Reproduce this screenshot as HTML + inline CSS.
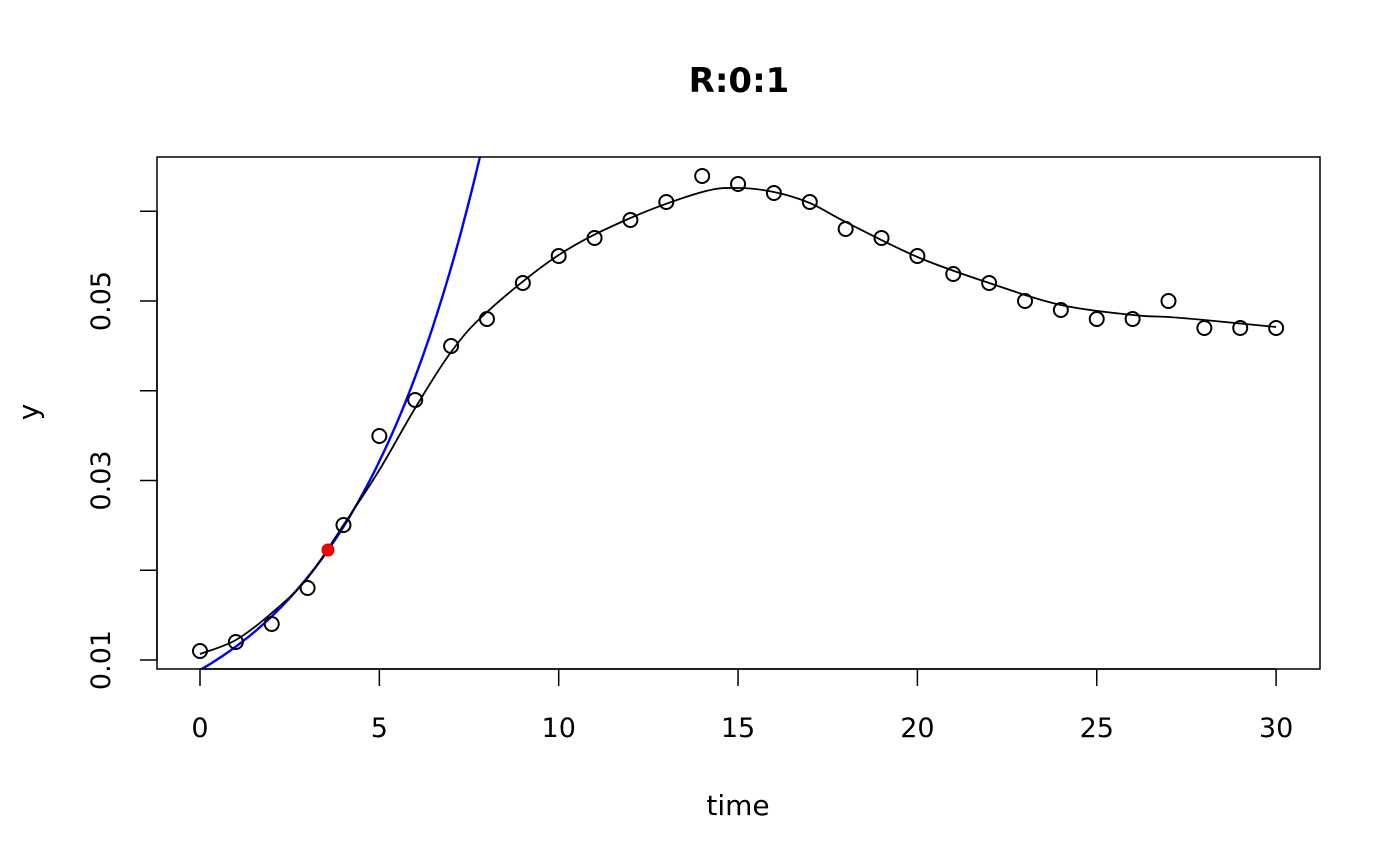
<!DOCTYPE html>
<html><head><style>body{margin:0;background:#fff}svg{display:block}text{font-family:"DejaVu Sans","Liberation Sans",sans-serif}</style></head>
<body>
<svg id="s" width="1400" height="866" xmlns="http://www.w3.org/2000/svg">
<text x="739" y="92" font-size="34" font-weight="bold" text-anchor="middle">R:0:1</text>
<text x="738" y="815" font-size="28" text-anchor="middle">time</text>
<text transform="translate(38,412) rotate(-90)" font-size="28" text-anchor="middle">y</text>
<g id="ax" stroke="#000" stroke-width="1.5" fill="none"></g>
<g id="lab" font-size="27"></g>
<defs><clipPath id="c"><rect x="157" y="157" width="1163" height="512"/></clipPath></defs>
<path id="blue" stroke="#0000ff" stroke-width="2.4" fill="none" clip-path="url(#c)"/>
<path id="blk" stroke="#000" stroke-width="1.8" fill="none"/>
<g id="pts" stroke="#000" stroke-width="2" fill="none"></g>
<circle cx="328" cy="550" r="6" fill="#ff0000" stroke="#d00000"/>
<rect x="157" y="157" width="1163" height="512" fill="none" stroke="#000" stroke-width="1.5"/>
</svg>
<script>
var X=t=>200+t*35.87, Y=v=>660-(v-0.01)*8975;
var ax=document.getElementById('ax'),lab=document.getElementById('lab'),h='',l='';
h+='<line x1="200" y1="669" x2="1276" y2="669"/>';
for(var t=0;t<=30;t+=5){h+=`<line x1="${X(t)}" y1="669" x2="${X(t)}" y2="686"/>`;l+=`<text x="${X(t)}" y="737" text-anchor="middle">${t}</text>`;}
h+=`<line x1="157" y1="${Y(0.01)}" x2="157" y2="${Y(0.06)}"/>`;
for(var i=1;i<=6;i++){var v=i/100;h+=`<line x1="140" y1="${Y(v)}" x2="157" y2="${Y(v)}"/>`;if(i%2)l+=`<text transform="translate(110,${Y(v)}) rotate(-90)" text-anchor="middle">0.0${i}</text>`;}
ax.innerHTML=h;lab.innerHTML=l;
var d='';for(var t=0;t<=8;t+=0.05){var v=0.00889*Math.exp(0.257*t);d+=(d?'L':'M')+X(t).toFixed(1)+','+Y(v).toFixed(1);}
document.getElementById('blue').setAttribute('d',d);
var ys=[651,642,624,588,525,436,400,346,319,283,256,238,220,202,176,184,193,202,229,238,256,274,283,301,310,319,319,301,328,328,328],p='';
ys.forEach((y,i)=>p+=`<circle cx="${X(i)}" cy="${y}" r="7"/>`);document.getElementById('pts').innerHTML=p;
var k=[[0,654],[1,640],[2,613],[3,578],[4,525],[5,470],[6,408],[7,352],[8,312],[10,255],[12,218],[14,192],[15,188],[16,192],[17,203],[18,222],[20,257],[22,283],[24,305],[26,315],[27,317],[28,320],[30,327]];
var q='M'+X(k[0][0])+','+k[0][1];
for(var i=0;i<k.length-1;i++){var p0=k[Math.max(0,i-1)],p1=k[i],p2=k[i+1],p3=k[Math.min(k.length-1,i+2)];
var a=[X(p0[0]),p0[1]],b=[X(p1[0]),p1[1]],c=[X(p2[0]),p2[1]],e=[X(p3[0]),p3[1]];
q+=`C${b[0]+(c[0]-a[0])/6},${b[1]+(c[1]-a[1])/6} ${c[0]-(e[0]-b[0])/6},${c[1]-(e[1]-b[1])/6} ${c[0]},${c[1]}`;}
document.getElementById('blk').setAttribute('d',q);
</script>
</body></html>
